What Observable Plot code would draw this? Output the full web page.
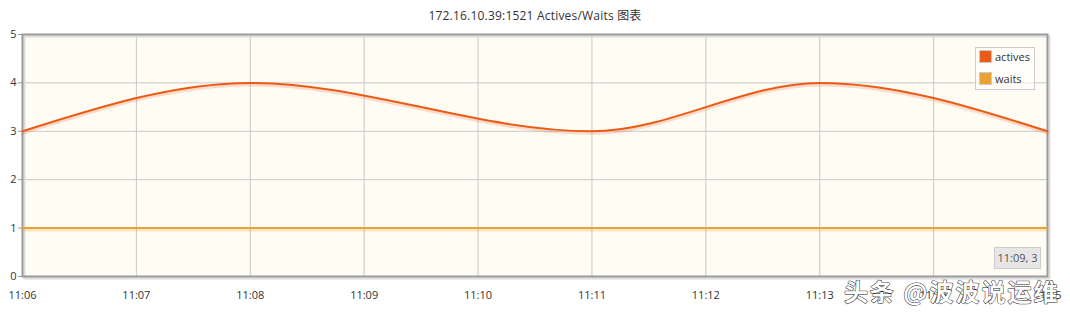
<!DOCTYPE html>
<html>
<head>
<meta charset="utf-8">
<script src="https://cdn.jsdelivr.net/npm/d3@7"></script>
<script src="https://cdn.jsdelivr.net/npm/@observablehq/plot@0.6"></script>
<style>
  html, body { margin: 0; padding: 0; background: #fff; }
  body { width: 1070px; height: 312px; overflow: hidden; font-family: "Open Sans", "Noto Sans", "Noto Sans CJK SC", sans-serif; }
  #wrap { position: relative; width: 1070px; height: 312px; }
  #title { height: 26px; line-height: 32px; text-align: center; font-size: 12px; color: #333; letter-spacing: 0.2px; }
  #legend { position: absolute; left: 975px; top: 47px; width: 58px; height: 41px; border: 1px solid #ccc; background: rgba(255,255,255,0.55); font-size: 11px; color: #333; }
  .item { position: absolute; left: 3px; height: 14px; line-height: 14px; }
  .sw { display: inline-block; width: 11px; height: 11px; border: 1px solid #ccc; vertical-align: -2px; margin-right: 3px; padding: 0; }
  #tip { position: absolute; left: 994px; top: 247px; width: 45px; height: 20px; line-height: 20px; text-align: center; background: #e6e6e6; border: 1px solid #ccc; font-size: 11px; color: #555; }
  .wm text { letter-spacing: 2px; }
</style>
</head>
<body>
<div id="wrap">
  <div id="title">172.16.10.39:1521 Actives/Waits 图表</div>
  <div id="chart"></div>
  <div id="legend"></div>
  <div id="tip"></div>
</div>
<script>
// ---- data ----
const activeTimes = ["11:06", "11:08", "11:11", "11:13", "11:15"];
const activeValues = [3, 4, 3, 4, 3];
const waitTimes = ["11:06", "11:07", "11:08", "11:09", "11:10", "11:11", "11:12", "11:13", "11:14", "11:15"];
const waitValues = [1, 1, 1, 1, 1, 1, 1, 1, 1, 1];
const xTickLabels = ["11:06", "11:07", "11:08", "11:09", "11:10", "11:11", "11:12", "11:13", "11:14", "11:15"];
const yTicks = [0, 1, 2, 3, 4, 5];
const seriesNames = ["actives", "waits"];
const seriesColors = ["#eb5b18", "#e9a236"];
const tooltipText = "11:09, 3";
const watermark = "头条 @波波说运维";

const toDate = s => new Date(`2020-01-01T${s}:00Z`);
const actives = activeTimes.map((t, i) => ({time: toDate(t), value: activeValues[i]}));
const waits = waitTimes.map((t, i) => ({time: toDate(t), value: waitValues[i]}));
const xTicks = xTickLabels.map(toDate);

const font = `"Open Sans", "Noto Sans", sans-serif`;

const chart = Plot.plot({
  width: 1070,
  height: 286,
  marginTop: 8,
  marginBottom: 36,
  marginLeft: 22,
  marginRight: 23,
  style: {fontFamily: font, fontSize: "11px", color: "#444", background: "transparent", overflow: "visible"},
  x: {type: "utc", domain: [xTicks[0], xTicks[xTicks.length - 1]]},
  y: {domain: [0, 5]},
  marks: [
    Plot.frame({fill: "#fffcf3", stroke: null}),
    Plot.gridX(xTicks, {stroke: "#c8c8c8", strokeOpacity: 1}),
    Plot.gridY(yTicks, {stroke: "#c8c8c8", strokeOpacity: 1}),
    // frame shadow
    Plot.frame({stroke: "#dcdcdc", strokeWidth: 2, dx: 2, dy: 2}),
    Plot.frame({stroke: "#9a9a9a", strokeWidth: 2}),
    // waits
    Plot.line(waits, {x: "time", y: "value", stroke: seriesColors[1], strokeOpacity: 0.25, strokeWidth: 3, dy: 2}),
    Plot.line(waits, {x: "time", y: "value", stroke: seriesColors[1], strokeWidth: 2}),
    // actives
    Plot.line(actives, {x: "time", y: "value", curve: "monotone-x", stroke: seriesColors[0], strokeOpacity: 0.2, strokeWidth: 3, dy: 2}),
    Plot.line(actives, {x: "time", y: "value", curve: "monotone-x", stroke: seriesColors[0], strokeWidth: 2}),
    Plot.axisY(yTicks, {tickSize: 4, tickPadding: 2, stroke: "#9a9a9a", fill: "#333", fontSize: 11, label: null}),
    Plot.axisX(xTicks, {tickSize: 0, tickPadding: 15, fill: "#333", fontSize: 11, tickFormat: d3.utcFormat("%H:%M"), label: null}),
    // watermark
    Plot.text([watermark], {
      frameAnchor: "bottom-right", dx: 12, dy: 24, text: d => d, className: "wm",
      fontSize: 24, fontWeight: "bold", fill: "white", stroke: "#222", strokeWidth: 1,
      fontFamily: `"Noto Sans CJK SC", sans-serif`, textAnchor: "end", lineAnchor: "bottom"
    })
  ]
});
document.getElementById("chart").appendChild(chart);

// legend
const legend = document.getElementById("legend");
seriesNames.forEach((name, i) => {
  const d = document.createElement("div");
  d.className = "item";
  d.style.top = (2 + i * 22) + "px";
  d.innerHTML = `<span class="sw" style="background:${seriesColors[i]}"></span>${name}`;
  legend.appendChild(d);
});
document.getElementById("tip").textContent = tooltipText;
</script>
</body>
</html>
